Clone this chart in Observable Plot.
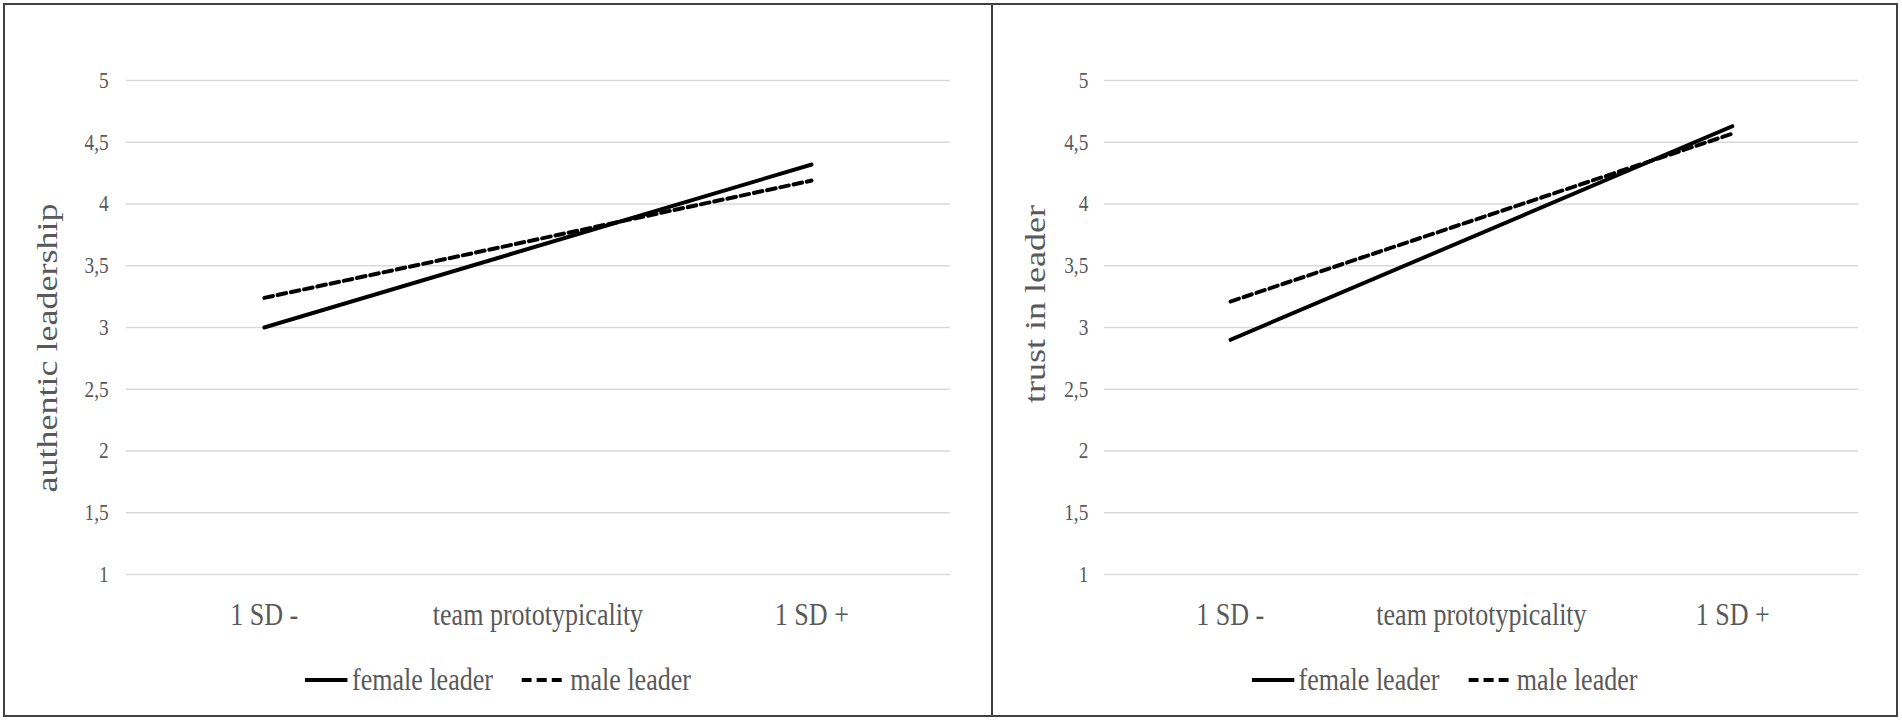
<!DOCTYPE html>
<html>
<head>
<meta charset="utf-8">
<script src="https://cdn.jsdelivr.net/npm/d3@7"></script>
<script src="https://cdn.jsdelivr.net/npm/@observablehq/plot@0.6"></script>
<style>
  html, body { margin: 0; padding: 0; background: #fff; }
  #root { position: relative; width: 1902px; height: 722px; background: #fff; overflow: hidden; }
  .panel { position: absolute; top: 3px; height: 714px; box-sizing: border-box; border: 2px solid #404040; background: #fff; }
  .legend { height: 60px; display: flex; align-items: center; justify-content: center;
            font-family: "Liberation Serif", "Times New Roman", serif; font-size: 31px; color: #595959;
            transform: scaleX(0.84); transform-origin: center; white-space: nowrap; }
  .legend svg { display: block; }
</style>
</head>
<body>
<div id="root"></div>
<script>
// ---- data ----
const xLabels = ["1 SD -", "team prototypicality", "1 SD +"];
const levels = ["1 SD -", "1 SD +"];
const yTicks = [1, 1.5, 2, 2.5, 3, 3.5, 4, 4.5, 5];
const seriesNames = ["female leader", "male leader"];
const authTitle = "authentic leadership";
const authFemale = [3.00, 4.32];
const authMale = [3.24, 4.19];
const trustTitle = "trust in leader";
const trustFemale = [2.90, 4.63];
const trustMale = [3.21, 4.57];

// ---- layout ----
const S = 0.84;           // horizontal compression of the original picture
const H = 645;
const FONT = '"Liberation Serif", "Times New Roman", serif';
const GREY = "#595959";
const DASH = "11,5";

function rows(vals) { return levels.map((l, i) => ({level: l, value: vals[i]})); }

function makePanel(cfg) {
  const div = document.createElement("div");
  div.className = "panel";
  div.style.left = cfg.left + "px";
  div.style.width = cfg.width + "px";
  document.getElementById("root").appendChild(div);

  const W = cfg.width - 4;
  const VW = W / S;
  const svg = Plot.plot({
    width: VW,
    height: H,
    marginLeft: cfg.marginLeft,
    marginRight: cfg.marginRight,
    marginTop: 75,
    marginBottom: 76,
    style: {fontFamily: FONT, fontSize: "23px", color: GREY, background: "#fff", overflow: "visible"},
    x: {type: "point", domain: xLabels, padding: 0.5},
    y: {domain: [1, 5]},
    marks: [
      Plot.gridY(yTicks, {stroke: "#d9d9d9", strokeOpacity: 1, strokeWidth: 1.6}),
      Plot.axisY(yTicks, {tickSize: 0, tickPadding: cfg.tickPadY, label: null, fill: GREY, fontSize: 23,
                          tickFormat: d => String(d).replace(".", ",")}),
      Plot.axisX({tickSize: 0, tickPadding: 28, label: null, fill: GREY, fontSize: 31}),
      Plot.line(rows(cfg.male), {x: "level", y: "value", stroke: "#000", strokeWidth: 4, strokeDasharray: DASH}),
      Plot.line(rows(cfg.female), {x: "level", y: "value", stroke: "#000", strokeWidth: 4, strokeLinecap: "round"})
    ]
  });
  svg.setAttribute("preserveAspectRatio", "none");
  svg.setAttribute("width", W);
  svg.setAttribute("height", H);
  svg.style.width = W + "px";
  svg.style.height = H + "px";
  svg.style.maxWidth = "none";
  svg.style.display = "block";

  d3.select(svg).append("text")
    .attr("transform", `translate(${cfg.titleX},${cfg.titleY}) rotate(-90)`)
    .attr("text-anchor", "middle")
    .attr("font-family", FONT)
    .attr("font-size", 36)
    .attr("fill", GREY)
    .text(cfg.title);

  div.appendChild(svg);

  // legend
  const lg = document.createElement("div");
  lg.className = "legend";
  const sw = (dash) => {
    const s = d3.create("svg").attr("width", dash ? 48 : 51).attr("height", 10);
    s.append("line").attr("x1", 0).attr("x2", dash ? 48 : 51).attr("y1", 5).attr("y2", 5)
      .attr("stroke", "#000").attr("stroke-width", 4)
      .attr("stroke-dasharray", dash ? "12,6" : null);
    return s.node();
  };
  const t1 = document.createElement("span"); t1.textContent = seriesNames[0]; t1.style.marginLeft = "5px";
  const s2 = sw(true); s2.style.marginLeft = "34px";
  const t2 = document.createElement("span"); t2.textContent = seriesNames[1]; t2.style.marginLeft = "10px";
  lg.appendChild(sw(false)); lg.appendChild(t1); lg.appendChild(s2); lg.appendChild(t2);
  div.appendChild(lg);
}

makePanel({left: 3, width: 990, marginLeft: 144, marginRight: 49, tickPadY: 21,
           title: authTitle, titleX: 62, titleY: 343, female: authFemale, male: authMale});
makePanel({left: 991, width: 907, marginLeft: 132, marginRight: 45, tickPadY: 19,
           title: trustTitle, titleX: 62, titleY: 299, female: trustFemale, male: trustMale});
</script>
</body>
</html>
